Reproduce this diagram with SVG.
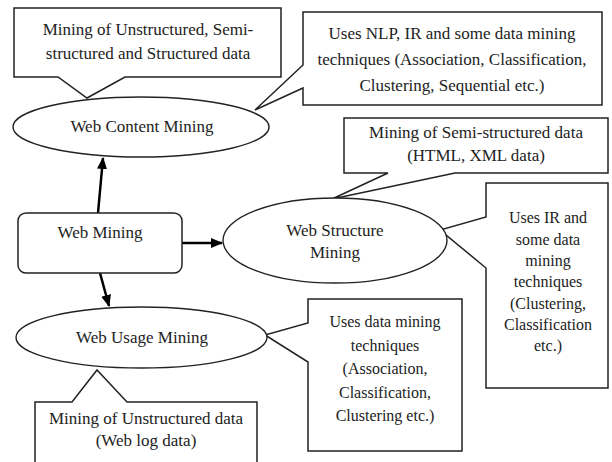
<svg xmlns="http://www.w3.org/2000/svg" width="612" height="462" viewBox="0 0 612 462">
<defs>
<marker id="ah" viewBox="0 0 12 10" refX="11" refY="5" markerWidth="12" markerHeight="10" markerUnits="userSpaceOnUse" orient="auto">
<path d="M0,0 L12,5 L0,10 Z" fill="#000"/>
</marker>
</defs>
<style>
text{font-family:'Liberation Serif','Times New Roman',Tinos,'DejaVu Serif',serif}
.t{font-size:17px;fill:#222;text-anchor:middle}
.s{font-size:16px}
.co{fill:#fff;stroke:#222;stroke-width:1.5;stroke-linejoin:miter}
.el{fill:#fff;stroke:#222;stroke-width:1.4}
.bx{fill:#fff;stroke:#222;stroke-width:1.5}
.ar{fill:none;stroke:#000;stroke-width:2.5;marker-end:url(#ah)}
</style>
<rect width="612" height="462" fill="#fff"/>
<g id="connectors">
<line class="ar" x1="98" y1="213" x2="103" y2="158"/>
<line class="ar" x1="182" y1="243" x2="222" y2="243"/>
<line class="ar" x1="100" y1="273" x2="109" y2="306"/>
</g>
<g id="callout-content-data">
<path class="co" d="M14,8 H281 V77 H125 L87,98 L58,77 H14 Z"/>
<text class="t" x="148" y="35" font-family="Liberation Serif, serif">Mining of Unstructured, Semi-</text>
<text class="t" x="148" y="59">structured and Structured data</text>
</g>
<g id="callout-content-tech">
<path class="co" d="M303,12 H602 V105 H303 V88 L255,110 L303,65 Z"/>
<text class="t" x="452" y="39">Uses NLP, IR and some data mining</text>
<text class="t" x="452" y="65">techniques (Association, Classification,</text>
<text class="t" x="452" y="91">Clustering, Sequential etc.)</text>
</g>
<g id="web-content-mining">
<ellipse class="el" cx="141" cy="127" rx="128" ry="30"/>
<text class="t" x="142" y="132">Web Content Mining</text>
</g>
<g id="callout-structure-data">
<path class="co" d="M344,118 H608 V173 H455 L332,199 L388,173 H344 Z"/>
<text class="t" x="476" y="138">Mining of Semi-structured data</text>
<text class="t" x="476" y="161">(HTML, XML data)</text>
</g>
<g id="callout-structure-tech">
<path class="co" d="M486,183 H608 V388 H486 V268 L440,230 L486,217 Z"/>
<text class="t s" x="548" y="223">Uses IR and</text>
<text class="t s" x="548" y="244.5">some data</text>
<text class="t s" x="548" y="266">mining</text>
<text class="t s" x="548" y="287">techniques</text>
<text class="t s" x="548" y="308.5">(Clustering,</text>
<text class="t s" x="548" y="330">Classification</text>
<text class="t s" x="548" y="351">etc.)</text>
</g>
<g id="web-mining">
<rect class="bx" x="18" y="213" width="164" height="60" rx="8"/>
<text class="t" x="100" y="238">Web Mining</text>
</g>
<g id="web-structure-mining">
<ellipse class="el" cx="335" cy="240.5" rx="112" ry="42.5"/>
<text class="t" x="335" y="236">Web Structure</text>
<text class="t" x="335" y="258">Mining</text>
</g>
<g id="callout-usage-tech">
<path class="co" d="M308,299 H462 V451 H308 V362 L265,335 L308,323 Z"/>
<text class="t s" x="385" y="327">Uses data mining</text>
<text class="t s" x="385" y="350.5">techniques</text>
<text class="t s" x="385" y="374">(Association,</text>
<text class="t s" x="385" y="397.5">Classification,</text>
<text class="t s" x="385" y="421">Clustering etc.)</text>
</g>
<g id="web-usage-mining">
<ellipse class="el" cx="141.5" cy="337.5" rx="125.5" ry="30.5"/>
<text class="t" x="142" y="343">Web Usage Mining</text>
</g>
<g id="callout-usage-data">
<path class="co" d="M35,402 H72 L97,370 L127,402 H257 V470 H35 Z"/>
<text class="t" x="146" y="424">Mining of Unstructured data</text>
<text class="t" x="146" y="446">(Web log data)</text>
</g>
</svg>
